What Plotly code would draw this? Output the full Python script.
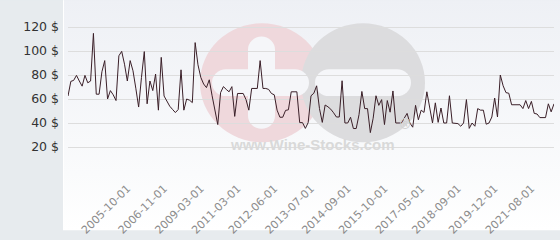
import base64
import plotly.graph_objects as go

# ---- data ----
prices = [
    62.5, 74.7, 75.5, 79.7, 75, 70.7, 79.7, 73.5, 75, 114.7,
    64, 64, 82.7, 92, 60, 67, 63.5, 58.7, 96, 99.7,
    89, 75, 92, 83.5, 69, 53.3, 78, 99.5, 56, 75,
    67, 80.8, 50.7, 94.7, 62.5, 58, 54, 51.3, 48.7, 51.2,
    84.3, 50.7, 60,
    59, 57, 107, 88.5, 78, 72.5, 69.5, 76, 62.7, 50.7,
    38.7, 65.3, 70.3, 68, 66, 70.3, 45.5, 64.6, 64.6, 64.6,
    59.5, 50.7, 68.8, 68.8, 68.8, 92, 68.8, 68.8, 68, 64.6,
    63.5, 50.7, 44.8, 44.8, 50.5, 51, 66, 66, 66, 40.3,
    40.3, 35.5, 40.3, 62.7, 64.8, 71, 52, 40.5, 55, 53.5,
    51.5, 48.5, 45, 45, 75.2, 40, 40, 44.8, 35.4, 35.4,
    47, 66.3, 52, 52,
    32, 44, 62.7, 54.7, 59.5, 38.7, 58.7, 49, 66.7, 40,
    40, 40, 44, 48, 40, 36.5, 54.7, 42.7, 50.7, 48.8,
    66, 53.3, 40, 56.8, 40.5, 52.5, 40, 40, 62.7, 40,
    40, 39.5, 37.3, 40, 59.5, 35.5, 40, 37.3, 52, 50.7,
    50.7, 39, 40, 45, 60.8, 45, 80,
    71, 65.3, 64.8, 55.2, 55.2, 55.2, 55.2, 52, 58.7, 52,
    58, 48, 47.5, 44.5, 44.5, 44.5, 56, 49.3, 56,
]
tick_labels = ["2005-10-01", "2006-11-01", "2009-03-01", "2011-03-01",
               "2012-06-01", "2013-07-01", "2014-09-01", "2015-10-01",
               "2017-05-01", "2018-09-01", "2019-12-01", "2021-08-01"]
y_ticks = [0, 20, 40, 60, 80, 100, 120]
y_tick_text = ["" if v == 0 else f"{v} $" for v in y_ticks]

x_idx = list(range(len(prices)))
tick_idx = list(range(21, 21 + 13 * len(tick_labels), 13))

W, H = 560, 240
ML, MR, MT, MB = 68, 6, 3, 62
PW, PH = W - ML - MR, H - MT - MB

def px(xp):
    return (xp - ML) / PW

def py(yp):
    return (H - MB - yp) / PH

svg = f"""<svg xmlns='http://www.w3.org/2000/svg' width='{W}' height='{H}' viewBox='0 0 {W} {H}' preserveAspectRatio='none'>
<defs><linearGradient id='g' x1='0' y1='0' x2='0' y2='1'>
<stop offset='0' stop-color='#eef0f5'/><stop offset='0.75' stop-color='#fafbfc'/><stop offset='1' stop-color='#ffffff'/></linearGradient></defs>
<rect width='{W}' height='{H}' fill='#e7ebee'/>
<rect x='64' width='{W-64}' height='{H}' fill='url(#g)'/>
<rect x='63' width='1' height='{H}' fill='#ffffff'/>
<circle cx='262' cy='86' r='62' fill='#efd8dc'/>
<circle cx='363' cy='86' r='62' fill='#dcdcde'/>
<rect x='248' y='38' width='27' height='96' rx='13.5' fill='#f5f6f9'/>
<rect x='212' y='72' width='97' height='28' rx='14' fill='#f5f6f9'/>
<rect x='315' y='72' width='96' height='28' rx='14' fill='#f5f6f9'/>
</svg>"""
src = "data:image/svg+xml;base64," + base64.b64encode(svg.encode()).decode()

fig = go.Figure()
fig.add_trace(go.Scatter(x=x_idx, y=prices, mode="lines",
                         line=dict(color="#3a1f28", width=1),
                         hoverinfo="skip", showlegend=False))

fig.update_layout(
    width=W, height=H,
    margin=dict(l=ML, r=MR, t=MT, b=MB, pad=0),
    paper_bgcolor="#e7ebee",
    plot_bgcolor="rgba(0,0,0,0)",
    font=dict(family="DejaVu Sans", color="#333333"),
    images=[dict(source=src, xref="paper", yref="paper",
                 x=px(0), y=py(0), sizex=W / PW, sizey=H / PH,
                 xanchor="left", yanchor="top", sizing="stretch",
                 layer="below")],
    annotations=[
        dict(text="<b>www.Wine-Stocks.com</b>", xref="paper", yref="paper",
             x=px(312), y=py(161), showarrow=False,
             font=dict(family="Liberation Sans", size=15, color="#d9d9d9")),
        dict(text="<b>®</b>", xref="paper", yref="paper",
             x=px(413), y=py(139), showarrow=False,
             font=dict(family="Liberation Sans", size=14, color="#d3d3d3")),
    ],
    xaxis=dict(range=[0, len(prices) - 1], tickmode="array",
               tickvals=tick_idx, ticktext=tick_labels, tickangle=-45,
               showgrid=False, zeroline=False, showline=False,
               ticks="", ticklabelstandoff=8,
               tickfont=dict(size=11, color="#8c8c8c")),
    yaxis=dict(range=[0, 140], tickmode="array", tickvals=y_ticks,
               ticktext=y_tick_text, showgrid=True, gridcolor="#dddddd",
               gridwidth=1, zeroline=False, showline=False, ticks="",
               ticklabelstandoff=8,
               tickfont=dict(size=12.5, color="#333333")),
)

fig.write_html("out.html")
